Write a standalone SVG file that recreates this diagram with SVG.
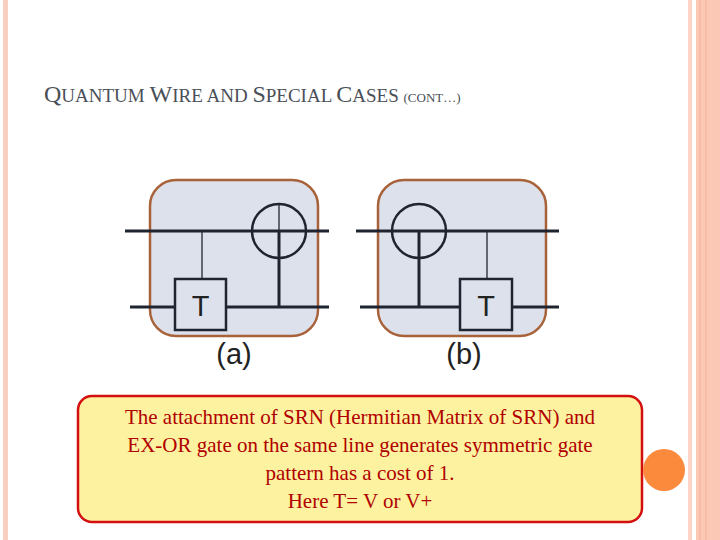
<svg xmlns="http://www.w3.org/2000/svg" width="720" height="540" viewBox="0 0 720 540">
<style>
.w{stroke:#1f2530;stroke-width:3;fill:none}
.t{stroke:#1f2530;stroke-width:1.3;fill:none}
.box{fill:#dde1ec;stroke:#a8623a;stroke-width:2.5}
.g{fill:#dde1ec;stroke:#1f2530;stroke-width:2.5}
.lbl{font-family:"Liberation Sans",Arial,sans-serif;font-size:29px;fill:#222}
.body{font-family:"Liberation Serif","Times New Roman",serif;font-size:21px;fill:#b00000;text-anchor:middle}
</style>
<rect width="720" height="540" fill="#fff"/>
<rect x="3" y="0" width="5" height="540" fill="#f9cfc0"/>
<rect x="688" y="0" width="4" height="540" fill="#fcd5c6"/>
<rect x="696" y="0" width="24" height="540" fill="#fbc8b6"/>
<line x1="700" y1="0" x2="700" y2="540" stroke="#f7b9a3" stroke-width="1.5"/>
<line x1="706" y1="0" x2="706" y2="540" stroke="#f7b9a3" stroke-width="1.5"/>
<text x="44" y="102" font-family="Liberation Serif,serif" fill="#4a4f57"><tspan font-size="24">Q</tspan><tspan font-size="19">UANTUM </tspan><tspan font-size="24">W</tspan><tspan font-size="19">IRE AND </tspan><tspan font-size="24">S</tspan><tspan font-size="19">PECIAL </tspan><tspan font-size="24">C</tspan><tspan font-size="19">ASES </tspan><tspan font-size="13">(CONT…)</tspan></text>
<g id="a">
<rect class="box" x="150" y="180" width="168" height="156" rx="26"/>
<line class="w" x1="125" y1="231" x2="329" y2="231"/>
<line class="w" x1="130" y1="307" x2="329" y2="307"/>
<line class="t" x1="202" y1="231" x2="202" y2="280"/>
<line class="w" x1="279" y1="231" x2="279" y2="307"/>
<rect class="g" x="175" y="279" width="51" height="51"/>
<text class="lbl" x="200.5" y="316" text-anchor="middle">T</text>
<circle cx="279" cy="231" r="27" fill="none" stroke="#1f2530" stroke-width="2.5"/>
<line class="t" x1="279" y1="204" x2="279" y2="231"/>
<text class="lbl" x="234" y="364" text-anchor="middle">(a)</text>
</g>
<g id="b">
<rect class="box" x="378" y="180" width="168" height="156" rx="26"/>
<line class="w" x1="356" y1="231" x2="559" y2="231"/>
<line class="w" x1="360" y1="307" x2="559" y2="307"/>
<line class="w" x1="419" y1="231" x2="419" y2="307"/>
<circle cx="419" cy="231" r="27" fill="none" stroke="#1f2530" stroke-width="2.5"/>
<line class="t" x1="487" y1="231" x2="487" y2="280"/>
<rect class="g" x="460" y="279" width="52" height="51"/>
<text class="lbl" x="486" y="316" text-anchor="middle">T</text>
<text class="lbl" x="464" y="364" text-anchor="middle">(b)</text>
</g>
<g id="note">
<rect x="78" y="396" width="564" height="126" rx="14" fill="#fdf29f" stroke="#d40f0f" stroke-width="2.5"/>
<text class="body" x="360" y="424">The attachment of SRN (Hermitian Matrix of SRN) and</text>
<text class="body" x="360" y="452">EX-OR gate on the same line generates symmetric gate</text>
<text class="body" x="360" y="480">pattern has a cost of 1.</text>
<text class="body" x="360" y="508">Here T= V or V+</text>
</g>
<circle cx="664" cy="470" r="21" fill="#fb8a3c"/>
</svg>
